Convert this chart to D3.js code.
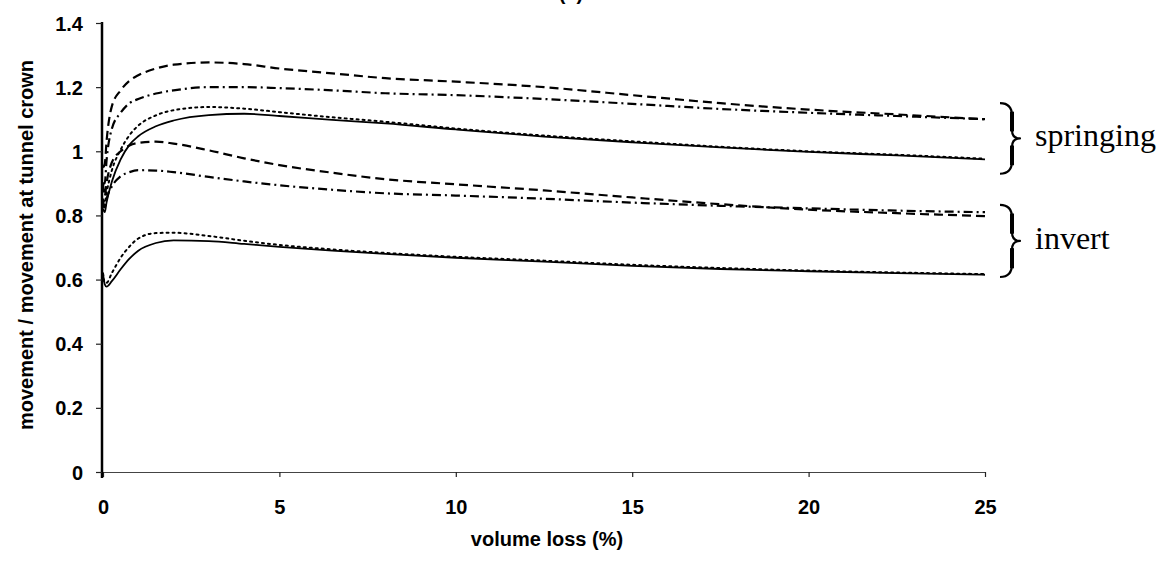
<!DOCTYPE html>
<html><head><meta charset="utf-8">
<script src="https://cdn.jsdelivr.net/npm/d3@7"></script>
<style>body{margin:0;background:#fff}svg{display:block}</style>
</head><body><svg id="c" width="1163" height="564"></svg>
<script>
const volume = [0, 0.05, 0.1, 0.25, 0.5, 0.75, 1, 1.5, 2, 3, 4, 5, 6.5, 8, 10, 12.5, 15, 17.5, 20, 22.5, 25];
const springingDashed  = [0.95, 0.96, 1.03, 1.14, 1.19, 1.22, 1.237, 1.258, 1.27, 1.277, 1.272, 1.258, 1.243, 1.228, 1.217, 1.2, 1.175, 1.15, 1.13, 1.115, 1.10];
const springingDashDot = [0.9, 0.9, 0.97, 1.07, 1.12, 1.15, 1.163, 1.18, 1.19, 1.2, 1.2, 1.197, 1.19, 1.181, 1.175, 1.163, 1.148, 1.132, 1.12, 1.11, 1.10];
const springingDotted  = [0.85, 0.84, 0.87, 0.94, 1.005, 1.05, 1.08, 1.112, 1.128, 1.138, 1.133, 1.122, 1.106, 1.092, 1.071, 1.049, 1.031, 1.014, 1.0, 0.989, 0.977];
const springingSolid   = [0.82, 0.81, 0.84, 0.905, 0.975, 1.02, 1.047, 1.078, 1.096, 1.113, 1.117, 1.11, 1.098, 1.087, 1.068, 1.046, 1.028, 1.012, 0.998, 0.987, 0.975];
const invertDashed     = [0.9, 0.86, 0.9, 0.965, 1.0, 1.018, 1.026, 1.03, 1.024, 1.003, 0.978, 0.957, 0.933, 0.913, 0.897, 0.878, 0.856, 0.835, 0.818, 0.807, 0.798];
const invertDashDot    = [0.85, 0.82, 0.85, 0.89, 0.922, 0.935, 0.941, 0.94, 0.935, 0.92, 0.906, 0.894, 0.88, 0.869, 0.862, 0.852, 0.84, 0.83, 0.822, 0.815, 0.81];
const invertDotted     = [0.62, 0.59, 0.59, 0.62, 0.668, 0.703, 0.728, 0.745, 0.746, 0.736, 0.721, 0.708, 0.694, 0.683, 0.671, 0.659, 0.646, 0.636, 0.628, 0.622, 0.617];
const invertSolid      = [0.62, 0.585, 0.578, 0.595, 0.632, 0.665, 0.69, 0.714, 0.722, 0.72, 0.711, 0.702, 0.69, 0.68, 0.668, 0.656, 0.643, 0.633, 0.626, 0.62, 0.615];

const xTicks = [0, 5, 10, 15, 20, 25];
const yTicks = [0, 0.2, 0.4, 0.6, 0.8, 1, 1.2, 1.4];
const yTickLabels = ["0", "0.2", "0.4", "0.6", "0.8", "1", "1.2", "1.4"];
const xTitle = "volume loss (%)";
const yTitle = "movement / movement at tunnel crown";
const panelTitle = "(a)";
const groupLabels = ["springing", "invert"];
const groupRanges = [[1.15, 0.93], [0.833, 0.608]];

const series = [
  {values: springingDashed,  dash: "9,5"},
  {values: springingDashDot, dash: "9,4,2,4"},
  {values: springingDotted,  dash: "2,4"},
  {values: springingSolid,   dash: null},
  {values: invertDashed,     dash: "9,5"},
  {values: invertDashDot,    dash: "9,4,2,4"},
  {values: invertDotted,     dash: "2,4"},
  {values: invertSolid,      dash: null}
];

const svg = d3.select("#c");
const x = d3.scaleLinear().domain([0, 25]).range([103, 985]);
const y = d3.scaleLinear().domain([0, 1.4]).range([472, 23]);
const sans = "'Liberation Sans', Arial, sans-serif";
const serif = "'Liberation Serif', 'Times New Roman', serif";

// x axis
const gx = svg.append("g").attr("transform", `translate(0,${y(0)})`)
  .call(d3.axisBottom(x).tickValues(xTicks).tickSize(5).tickSizeOuter(0).tickFormat(d3.format("d")));
gx.select(".domain").attr("stroke", "#444").attr("stroke-width", 1);
gx.selectAll(".tick line").attr("stroke", "#222").attr("stroke-width", 1.2);
gx.selectAll(".tick text").attr("y", 42).attr("dy", 0)
  .attr("font-family", sans).attr("font-weight", "bold").attr("font-size", 20).attr("fill", "#000");

// y axis
const gy = svg.append("g").attr("transform", `translate(${x(0) - 1},0)`)
  .call(d3.axisLeft(y).tickValues(yTicks).tickSize(6).tickSizeOuter(0)
    .tickFormat((d, i) => yTickLabels[i]));
gy.select(".domain").attr("stroke", "#000").attr("stroke-width", 2.5)
  .attr("d", `M0,${y(1.4) - 1}V${y(0) + 6}`);
gy.selectAll(".tick line").attr("stroke", "#222").attr("stroke-width", 1.2);
gy.selectAll(".tick text").attr("x", -19).attr("dy", "0.35em")
  .attr("font-family", sans).attr("font-weight", "bold").attr("font-size", 20).attr("fill", "#000");

// lines
const line = d3.line().x((d, i) => x(volume[i])).y(d => y(d)).curve(d3.curveMonotoneX);
series.forEach(s => {
  const dotted = s.dash === "2,4";
  svg.append("path").datum(s.values).attr("d", line)
    .attr("fill", "none").attr("stroke", "#000")
    .attr("stroke-width", dotted ? 2 : (s.dash ? 2.2 : 1.8))
    .attr("stroke-linecap", dotted ? "round" : "butt")
    .attr("stroke-dasharray", s.dash);
});

// titles
svg.append("text").attr("x", 547).attr("y", 546).attr("text-anchor", "middle")
  .attr("font-family", sans).attr("font-weight", "bold").attr("font-size", 20).text(xTitle);
svg.append("text").attr("transform", "translate(33,245) rotate(-90)").attr("text-anchor", "middle")
  .attr("font-family", sans).attr("font-weight", "bold").attr("font-size", 20).text(yTitle);
svg.append("text").attr("x", 571).attr("y", 0).attr("text-anchor", "middle")
  .attr("font-family", sans).attr("font-weight", "bold").attr("font-size", 20).text(panelTitle);

// braces
function brace(x0, y1, y2, w) {
  const ym = (y1 + y2) / 2, h = y2 - y1, xm = x0 + w * 0.6;
  return `M${x0},${y1} Q${xm},${y1} ${xm},${y1 + h * 0.18} L${xm},${ym - h * 0.12} Q${xm},${ym} ${x0 + w},${ym}` +
         ` Q${xm},${ym} ${xm},${ym + h * 0.12} L${xm},${y2 - h * 0.18} Q${xm},${y2} ${x0},${y2}`;
}
groupRanges.forEach((r, i) => {
  const y1 = y(r[0]), y2 = y(r[1]), h = y2 - y1, ym = (y1 + y2) / 2;
  const x0 = 1000, w = 20, xm = x0 + w * 0.6;
  svg.append("path").attr("d", brace(x0, y1, y2, w))
    .attr("fill", "none").attr("stroke", "#000").attr("stroke-width", 2.2).attr("stroke-linejoin", "round");
  // thicker arms, like a typeset brace
  [[y1 + h * 0.12, ym - h * 0.1], [ym + h * 0.1, y2 - h * 0.12]].forEach(seg => {
    svg.append("line").attr("x1", xm).attr("x2", xm).attr("y1", seg[0]).attr("y2", seg[1])
      .attr("stroke", "#000").attr("stroke-width", 4);
  });
  svg.append("text").attr("x", 1035).attr("y", ym + 8)
    .attr("font-family", serif).attr("font-size", 32).text(groupLabels[i]);
});
</script></body></html>
